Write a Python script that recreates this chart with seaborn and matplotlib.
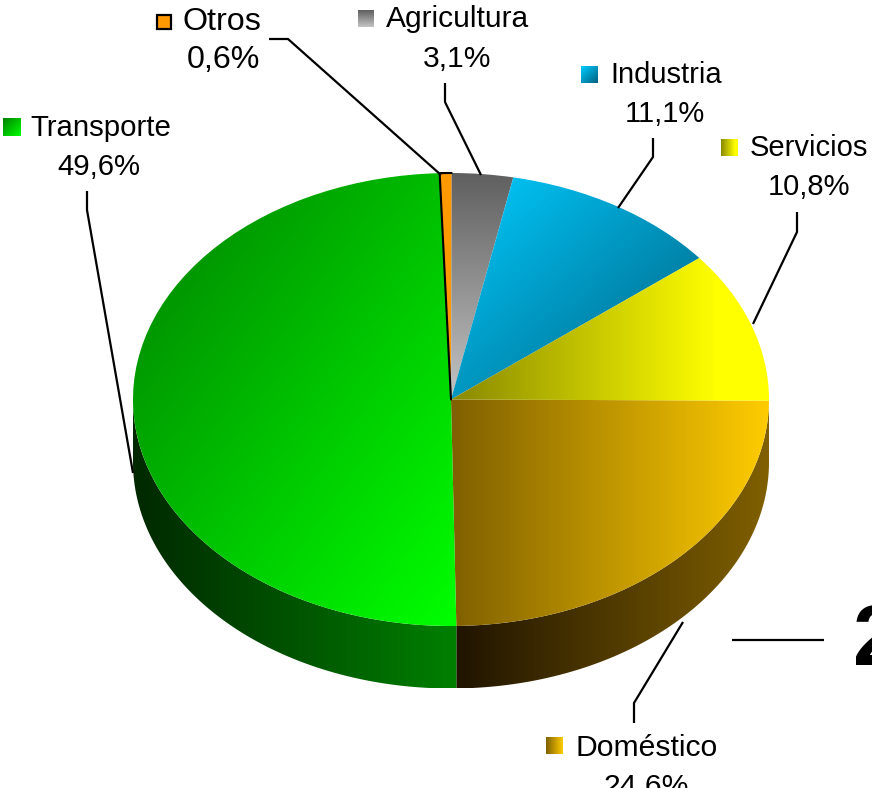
import numpy as np
import matplotlib
matplotlib.use("Agg")
import matplotlib.pyplot as plt
from matplotlib.patches import Polygon, Rectangle
import seaborn as sns

# --- data -------------------------------------------------------------
categories = ["Doméstico", "Transporte", "Otros", "Agricultura", "Industria", "Servicios"]
shares = [24.6, 49.6, 0.6, 3.1, 11.1, 10.8]
share_labels = ["24,6%", "49,6%", "0,6%", "3,1%", "11,1%", "10,8%"]

# --- styles -----------------------------------------------------------
W, H = 872, 788
CX, CY, RX, RY, DEPTH = 451, 399.5, 318, 226.5, 62.5
HORIZ, VERT, DIAG, FAST = (1, 0), (0, 1), (.5, .5), (1.2, 0)
top_style = {
    "Doméstico": ("#7f6000", "#ffcc00", HORIZ),
    "Transporte": ("#008000", "#00ff00", DIAG),
    "Otros": ("#ff9900", "#ff9900", HORIZ),
    "Agricultura": ("#5f5f5f", "#c4c4c4", VERT),
    "Industria": ("#00ccff", "#006080", DIAG),
    "Servicios": ("#888800", "#ffff00", FAST),
}
side_style = {
    "Doméstico": ("#201400", "#806000", HORIZ),
    "Transporte": ("#002800", "#008000", HORIZ),
}
# name text (left x, centre y), value text (centre x, centre y), key box, font size
label_layout = {
    "Otros": ((183, 22), (223, 60), (157, 15, 171, 29), 23.2),
    "Agricultura": ((386, 19), (457, 59), (358, 10, 374, 27), 21.6),
    "Industria": ((610, 75), (665, 114), (581, 66, 598, 83), 21.0),
    "Servicios": ((750, 148), (809, 187), (721, 139, 738, 156), 21.0),
    "Doméstico": ((575, 748), (646, 787), (546, 737, 563, 754), 21.7),
    "Transporte": ((30, 128), (99, 167), (3, 118, 21, 136), 21.2),
}
leaders = [
    [(269, 39), (288, 39), (441, 175)],
    [(445, 83), (445, 102), (481, 175)],
    [(653, 138), (653, 157), (618, 208)],
    [(797, 212), (797, 232), (753, 324)],
    [(634, 723), (634, 703), (683, 622)],
    [(87, 191), (87, 210), (133, 473)],
    [(732, 640), (824, 640)],
]

sns.set_theme(style="white")
plt.rcParams["font.family"] = ["Liberation Sans", "DejaVu Sans"]

fx = lambda p: (p - CX) / RX
fy = lambda p: (CY - p) / RY
ipx = lambda x: x * RX + CX
ipy = lambda y: CY - y * RY

fig = plt.figure(figsize=(W / 100, H / 100), dpi=100)
ax = fig.add_axes([0, 0, 1, 1])


def gradient(bbox, style, clip=None, zorder=2):
    x0, y0, x1, y1 = bbox
    c0, c1, (wx, wy) = style
    cmap = sns.blend_palette([c0, c1], as_cmap=True)
    nx, ny = max(int(x1 - x0), 2), max(int(y1 - y0), 2)
    tx = (np.arange(nx) + .5) / nx
    ty = (np.arange(ny) + .5) / ny
    t = wx * tx[None, :] + wy * ty[:, None]
    im = ax.imshow(t, cmap=cmap, vmin=0, vmax=1, origin="upper", aspect="auto",
                   extent=(fx(x0), fx(x1), fy(y1), fy(y0)), zorder=zorder,
                   interpolation="bilinear")
    if clip is not None:
        im.set_clip_path(clip)
    return im


wedges, _ = ax.pie(shares, startangle=-0.3, counterclock=False, radius=1, center=(0, 0),
                   colors=["none"] * len(shares), wedgeprops=dict(linewidth=0))
ax.set_aspect("auto")

for name, w in zip(categories, wedges):
    ext = w.get_path().get_extents()
    bbox = (ipx(ext.x0), ipy(ext.y1), ipx(ext.x1), ipy(ext.y0))
    gradient(bbox, top_style[name], clip=w, zorder=3)

    # visible rim below the lower half of the ellipse
    a0, a1 = max(w.theta1, -180), min(w.theta2, 0)
    if name == "Doméstico":
        a1 = 0
    if a0 < a1 and name in side_style:
        th = np.radians(np.linspace(a0, a1, 200))
        d = DEPTH / RY
        pts = np.r_[np.c_[np.cos(th), np.sin(th)],
                    np.c_[np.cos(th[::-1]), np.sin(th[::-1]) - d]]
        poly = Polygon(pts, closed=True, facecolor="none", linewidth=0,
                       transform=ax.transData)
        ax.add_patch(poly)
        sb = (ipx(pts[:, 0].min()), ipy(pts[:, 1].max()),
              ipx(pts[:, 0].max()), ipy(pts[:, 1].min()))
        gradient(sb, side_style[name], clip=poly, zorder=2)

    if name == "Otros":
        # black outline on the left edge and the top of the thin slice
        a = np.radians(np.linspace(w.theta2, w.theta1, 10))
        ax.plot(np.r_[0, np.cos(a)], np.r_[0, np.sin(a)], color="black", lw=1.5,
                zorder=4, solid_joinstyle="miter")

for line in leaders:
    xs, ys = zip(*line)
    ax.plot([fx(x) for x in xs], [fy(y) for y in ys], color="black", lw=1.6,
            zorder=5, solid_capstyle="butt")

for name, value in zip(categories, share_labels):
    (nx, ny), (vx, vy), box, fs = label_layout[name]
    ax.text(fx(nx), fy(ny), name, fontsize=fs, ha="left", va="center", color="black", zorder=6)
    ax.text(fx(vx), fy(vy), value, fontsize=fs, ha="center", va="center", color="black",
            zorder=6, clip_on=True)
    x0, y0, x1, y1 = box
    c0, c1, direction = top_style[name]
    if name == "Otros":
        ax.add_patch(Rectangle((fx(x0), fy(y1)), fx(x1) - fx(x0), fy(y0) - fy(y1),
                               facecolor=c0, edgecolor="black", lw=1.6, zorder=6))
    else:
        gradient(box, top_style[name], zorder=6)

ax.text(fx(853), fy(665), "2", fontsize=62, fontweight="bold", ha="left", va="baseline",
        color="black", zorder=6, clip_on=True)

ax.set_xlim(fx(0), fx(W))
ax.set_ylim(fy(H), fy(0))
ax.set_axis_off()
fig.savefig("out.png", dpi=100, facecolor="white")
